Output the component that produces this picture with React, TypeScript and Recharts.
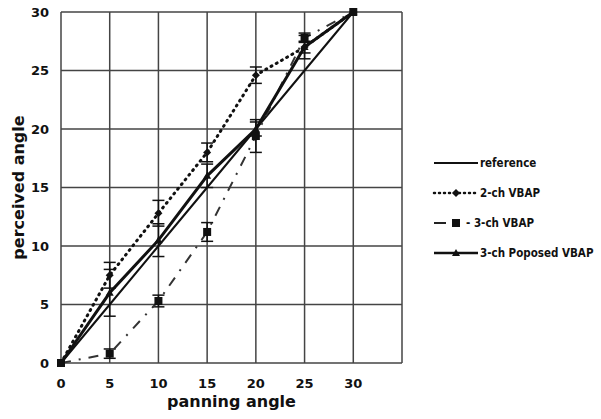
import { LineChart, Line, XAxis, YAxis, CartesianGrid, ErrorBar, Label } from 'recharts';

const angles = [0, 5, 10, 15, 20, 25, 30];
const referenceVals = [0, 5, 10, 15, 20, 25, 30];
const vbap2 = [0, 7.5, 12.8, 18, 24.6, 27, 30];
const vbap2Err = [0, 1.1, 1.1, 0.8, 0.7, 0.5, 0];
const vbap3 = [0, 0.8, 5.3, 11.2, 19.4, 27.8, 30];
const vbap3Err = [0, 0.4, 0.5, 0.8, 1.4, 0.4, 0];
const proposed = [0, 6, 10.5, 16, 20, 27, 30];
const proposedErr = [0, 2, 1.4, 1, 0.6, 1, 0];
const xTicks = [0, 5, 10, 15, 20, 25, 30, 35];
const yTicks = [0, 5, 10, 15, 20, 25, 30];

const legendItems = ['reference', '2-ch VBAP', '- 3-ch VBAP', '3-ch Poposed VBAP'];

const data = angles.map((a, i) => ({
  angle: a,
  reference: referenceVals[i],
  vbap2: vbap2[i],
  vbap2Err: vbap2Err[i],
  vbap3: vbap3[i],
  vbap3Err: vbap3Err[i],
  proposed: proposed[i],
  proposedErr: proposedErr[i],
}));

const Diamond = ({ cx, cy }: any) =>
  cx == null ? null : (
    <path d={`M${cx},${cy - 4} L${cx + 4},${cy} L${cx},${cy + 4} L${cx - 4},${cy} Z`} fill="#111" />
  );
const Square = ({ cx, cy }: any) =>
  cx == null ? null : <rect x={cx - 4} y={cy - 4} width={8} height={8} fill="#111" />;
const Tri = ({ cx, cy }: any) =>
  cx == null ? null : (
    <path d={`M${cx},${cy - 4} L${cx + 4},${cy + 3} L${cx - 4},${cy + 3} Z`} fill="#111" />
  );

function LegendBox() {
  const rowY = [163, 193, 223, 253];
  return (
    <svg width={601} height={419} style={{ position: 'absolute', left: 0, top: 0, pointerEvents: 'none' }}>
      {legendItems.map((t, i) => {
        const y = rowY[i];
        return (
          <g key={t}>
            {i === 0 && <line x1={434} x2={478} y1={y} y2={y} stroke="#111" strokeWidth={2} />}
            {i === 1 && (
              <>
                <line x1={434} x2={478} y1={y} y2={y} stroke="#111" strokeWidth={2.5} strokeDasharray="1 4" strokeLinecap="round" />
                <Diamond cx={456} cy={y} />
              </>
            )}
            {i === 2 && (
              <>
                <line x1={434} x2={446} y1={y} y2={y} stroke="#222" strokeWidth={2} />
                <Square cx={456} cy={y} />
              </>
            )}
            {i === 3 && (
              <>
                <line x1={434} x2={478} y1={y} y2={y} stroke="#111" strokeWidth={2.5} />
                <Tri cx={456} cy={y} />
              </>
            )}
            <text
              x={i === 2 ? 466 : 480}
              y={y + 4}
              fontFamily="DejaVu Sans Condensed"
              fontWeight="bold"
              fontSize={11.5}
              fill="#111"
            >
              {t}
            </text>
          </g>
        );
      })}
    </svg>
  );
}

export default function App() {
  return (
    <div style={{ position: 'absolute', left: 0, top: 0, width: 601, height: 419, background: '#fff' }}>
      <LineChart width={601} height={419} data={data} margin={{ top: 12, right: 199, bottom: 0, left: 0 }}>
        <CartesianGrid stroke="#444" strokeWidth={1.5} />
        <XAxis
          dataKey="angle"
          type="number"
          domain={[0, 35]}
          ticks={xTicks}
          tickFormatter={(v) => (v === 35 ? '' : String(v))}
          axisLine={false}
          tickLine={false}
          height={56}
          tick={{ fill: '#111', fontSize: 13, fontWeight: 'bold', fontFamily: 'DejaVu Sans' }}
          tickMargin={10}
        >
          <Label
            value="panning angle"
            position="insideBottom"
            offset={12}
            style={{ fill: '#111', fontSize: 16, fontWeight: 'bold', fontFamily: 'DejaVu Sans' }}
          />
        </XAxis>
        <YAxis
          type="number"
          domain={[0, 30]}
          ticks={yTicks}
          axisLine={false}
          tickLine={false}
          width={61}
          tick={{ fill: '#111', fontSize: 13, fontWeight: 'bold', fontFamily: 'DejaVu Sans' }}
          tickMargin={6}
        >
          <Label
            value="perceived angle"
            angle={-90}
            position="insideLeft"
            offset={18}
            style={{ fill: '#111', fontSize: 16, fontWeight: 'bold', fontFamily: 'DejaVu Sans', textAnchor: 'middle' }}
          />
        </YAxis>
        <Line dataKey="reference" stroke="#111" strokeWidth={2} dot={false} isAnimationActive={false} />
        <Line
          dataKey="vbap2"
          stroke="#111"
          strokeWidth={3}
          strokeDasharray="1 5"
          strokeLinecap="round"
          dot={<Diamond />}
          isAnimationActive={false}
        >
          <ErrorBar dataKey="vbap2Err" width={6} stroke="#111" strokeWidth={1.5} direction="y" />
        </Line>
        <Line
          dataKey="vbap3"
          stroke="#333"
          strokeWidth={2}
          strokeDasharray="10 8 2 8"
          dot={<Square />}
          isAnimationActive={false}
        >
          <ErrorBar dataKey="vbap3Err" width={6} stroke="#111" strokeWidth={1.5} direction="y" />
        </Line>
        <Line dataKey="proposed" stroke="#111" strokeWidth={3} dot={<Tri />} isAnimationActive={false}>
          <ErrorBar dataKey="proposedErr" width={6} stroke="#111" strokeWidth={1.5} direction="y" />
        </Line>
      </LineChart>
      <LegendBox />
    </div>
  );
}
